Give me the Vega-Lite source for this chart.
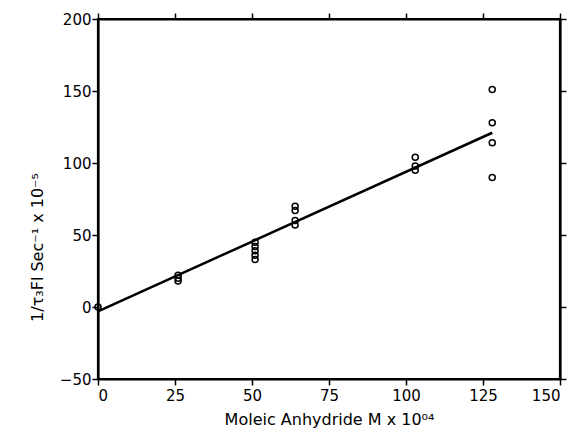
{
  "$schema": "https://vega.github.io/schema/vega-lite/v6.json",
  "width": 462,
  "height": 360,
  "autosize": "none",
  "padding": {"left": 98, "top": 19, "right": 19, "bottom": 58},
  "background": "white",
  "config": {
    "view": {"stroke": "black", "strokeWidth": 2.2},
    "axis": {
      "grid": false,
      "zindex": 1,
      "ticks": true,
      "domainColor": "black",
      "domainWidth": 2.2,
      "tickColor": "black",
      "tickWidth": 1.5,
      "labelFont": "DejaVu Sans",
      "labelFontSize": 15,
      "labelColor": "black",
      "titleFont": "DejaVu Sans",
      "titleFontSize": 16,
      "titleFontWeight": "normal",
      "titleColor": "black"
    }
  },
  "datasets": {
    "pts": [
      {"x": 0, "y": 0},
      {"x": 26, "y": 22}, {"x": 26, "y": 20}, {"x": 26, "y": 18},
      {"x": 51, "y": 45}, {"x": 51, "y": 42}, {"x": 51, "y": 39}, {"x": 51, "y": 36}, {"x": 51, "y": 33},
      {"x": 64, "y": 70}, {"x": 64, "y": 67}, {"x": 64, "y": 60}, {"x": 64, "y": 57},
      {"x": 103, "y": 104}, {"x": 103, "y": 98}, {"x": 103, "y": 95},
      {"x": 128, "y": 151}, {"x": 128, "y": 128}, {"x": 128, "y": 114}, {"x": 128, "y": 90}
    ],
    "fit": [
      {"x": 0, "y": -3},
      {"x": 128, "y": 121}
    ]
  },
  "layer": [
    {
      "data": {"name": "pts"},
      "mark": {"type": "point", "shape": "circle", "filled": false, "color": "black", "size": 36, "strokeWidth": 1.5, "opacity": 1},
      "encoding": {
        "x": {
          "field": "x", "type": "quantitative",
          "scale": {"domain": [0, 150], "nice": false, "zero": false},
          "axis": {"values": [0, 25, 50, 75, 100, 125, 150], "tickSize": 6, "labelPadding": 3, "title": "Moleic Anhydride M x 10⁰⁴", "titlePadding": 8}
        },
        "y": {
          "field": "y", "type": "quantitative",
          "scale": {"domain": [-50, 200], "nice": false, "zero": false},
          "axis": {"values": [-50, 0, 50, 100, 150, 200], "tickSize": 6, "labelPadding": 1, "title": "1/τ₃Fl  Sec⁻¹ x 10⁻⁵", "titlePadding": 14, "titleY": 228}
        }
      }
    },
    {
      "data": {"name": "fit"},
      "mark": {"type": "line", "color": "black", "strokeWidth": 2.5},
      "encoding": {
        "x": {
          "field": "x", "type": "quantitative",
          "axis": {"orient": "top", "values": [0, 25, 50, 75, 100, 125, 150], "tickSize": 6, "labels": false, "title": null}
        },
        "y": {
          "field": "y", "type": "quantitative",
          "axis": {"orient": "right", "values": [-50, 0, 50, 100, 150, 200], "tickSize": 6, "labels": false, "title": null}
        }
      }
    }
  ],
  "resolve": {"axis": {"x": "independent", "y": "independent"}}
}
